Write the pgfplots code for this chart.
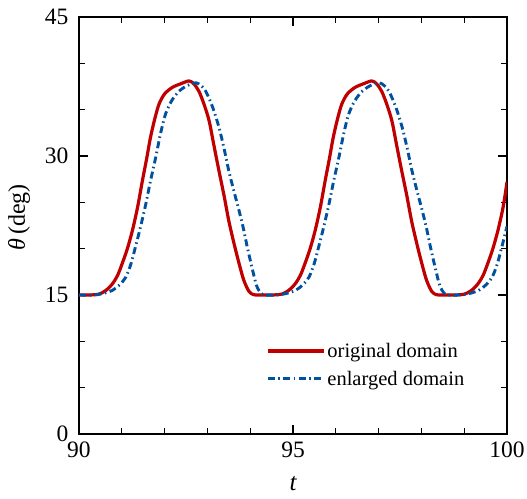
\documentclass[border=0pt]{standalone}
\usepackage{fontspec}
\setmainfont{Liberation Serif}
\usepackage{pgfplots}
\pgfplotsset{compat=1.18}
\definecolor{myred}{RGB}{192,0,0}
\definecolor{myblue}{RGB}{0,82,160}
\begin{document}
\begin{tikzpicture}
\begin{axis}[
  scale only axis,
  width=428pt, height=417pt,
  xmin=90, xmax=100, ymin=0, ymax=45,
  xtick={90,95,100}, ytick={0,15,30,45},
  minor x tick num=4, minor y tick num=2,
  tick align=inside,
  major tick length=9pt, minor tick length=6pt,
  every tick/.style={black, line width=1.3pt},
  axis line style={line width=1.6pt},
  /pgf/number format/assume math mode=true,
  ticklabel style={font=\fontsize{23.5}{27}\selectfont},
  xticklabel style={yshift=-4pt},
  yticklabel style={xshift=-7pt},
  xlabel={\fontsize{25}{29}\selectfont\itshape t},
  ylabel={\fontsize{24}{28}\selectfont{\itshape θ}\,(deg)},
  xlabel style={yshift=-12pt},
  ylabel style={yshift=8pt, xshift=8pt},
  legend style={draw=none, fill=none, at={(0.43,0.228)}, anchor=north west,
    font=\fontsize{20.5}{24}\selectfont, row sep=8pt},
  legend cell align=left,
  legend image code/.code={\draw[#1] (0pt,0pt) -- (51pt,0pt); \path (0pt,0pt) -- (56pt,0pt);},
]
\addplot[myred, line width=3.2pt, smooth, tension=0.5] coordinates {
(90.00,15.0) (90.25,15.0) (90.47,15.1) (90.63,15.5) (90.78,16.2) (90.90,17.1)
(91.01,18.4) (91.13,20.0) (91.25,22.0) (91.37,24.5) (91.48,27.3) (91.58,29.7)
(91.67,32.0) (91.77,34.0) (91.87,35.6) (92.00,36.7) (92.18,37.4) (92.38,37.8)
(92.57,38.1) (92.68,37.8) (92.80,37.0) (92.92,35.6) (93.04,33.8) (93.15,31.2)
(93.27,28.4) (93.39,25.7) (93.50,23.0) (93.62,20.6) (93.74,18.4) (93.85,16.6)
(93.97,15.4) (94.07,15.05) (94.20,15.0)
(94.52,15.0) (94.74,15.1) (94.90,15.5) (95.05,16.2) (95.17,17.1)
(95.28,18.4) (95.40,20.0) (95.52,22.0) (95.64,24.5) (95.75,27.3) (95.85,29.7)
(95.94,32.0) (96.04,34.0) (96.14,35.6) (96.27,36.7) (96.45,37.4) (96.65,37.8)
(96.84,38.1) (96.95,37.8) (97.07,37.0) (97.19,35.6) (97.31,33.8) (97.42,31.2)
(97.54,28.4) (97.66,25.7) (97.77,23.0) (97.89,20.6) (98.01,18.4) (98.12,16.6)
(98.24,15.4) (98.34,15.05) (98.47,15.0)
(98.79,15.0) (99.01,15.1) (99.17,15.5) (99.32,16.2) (99.44,17.1)
(99.55,18.4) (99.67,20.0) (99.79,22.0) (99.91,24.5) (100.00,27.2)
};
\addlegendentry{original domain}
\addplot[myblue, line width=2.9pt, smooth, tension=0.5,
  dash pattern=on 7pt off 3.5pt on 1.5pt off 3.5pt] coordinates {
(90.00,15.0) (90.31,15.0) (90.55,15.15) (90.78,15.5) (90.95,16.1) (91.09,16.9)
(91.21,18.3) (91.32,20.2) (91.44,22.4) (91.56,24.8) (91.67,27.3) (91.79,29.8)
(91.90,32.3) (92.02,34.5) (92.17,36.0) (92.34,37.0) (92.53,37.6) (92.73,37.9)
(92.85,37.6) (92.96,37.0) (93.12,35.3) (93.27,33.1) (93.39,30.8) (93.50,28.4)
(93.62,26.2) (93.74,24.1) (93.84,22.2) (93.93,20.2) (94.05,17.8) (94.15,16.0)
(94.25,15.2) (94.35,15.0)
(94.59,15.0) (94.83,15.15) (95.06,15.5) (95.23,16.1) (95.37,16.9)
(95.49,18.3) (95.60,20.2) (95.72,22.4) (95.84,24.8) (95.95,27.3) (96.07,29.8)
(96.18,32.3) (96.30,34.5) (96.45,36.0) (96.62,37.0) (96.81,37.6) (97.01,37.9)
(97.13,37.6) (97.24,37.0) (97.40,35.3) (97.55,33.1) (97.67,30.8) (97.78,28.4)
(97.90,26.2) (98.02,24.1) (98.12,22.2) (98.21,20.2) (98.33,17.8) (98.43,16.0)
(98.53,15.2) (98.63,15.0)
(98.87,15.0) (99.11,15.15) (99.34,15.5) (99.51,16.1) (99.65,16.9)
(99.77,18.3) (99.88,20.2) (100.00,22.4)
};
\addlegendentry{enlarged domain}
\end{axis}
\pgfresetboundingbox
\path (current axis.south west) ++(-79pt,-64pt) coordinate (bl);
\path (current axis.north east) ++(20pt,17pt) coordinate (tr);
\path (bl) rectangle (tr);
\end{tikzpicture}
\end{document}
